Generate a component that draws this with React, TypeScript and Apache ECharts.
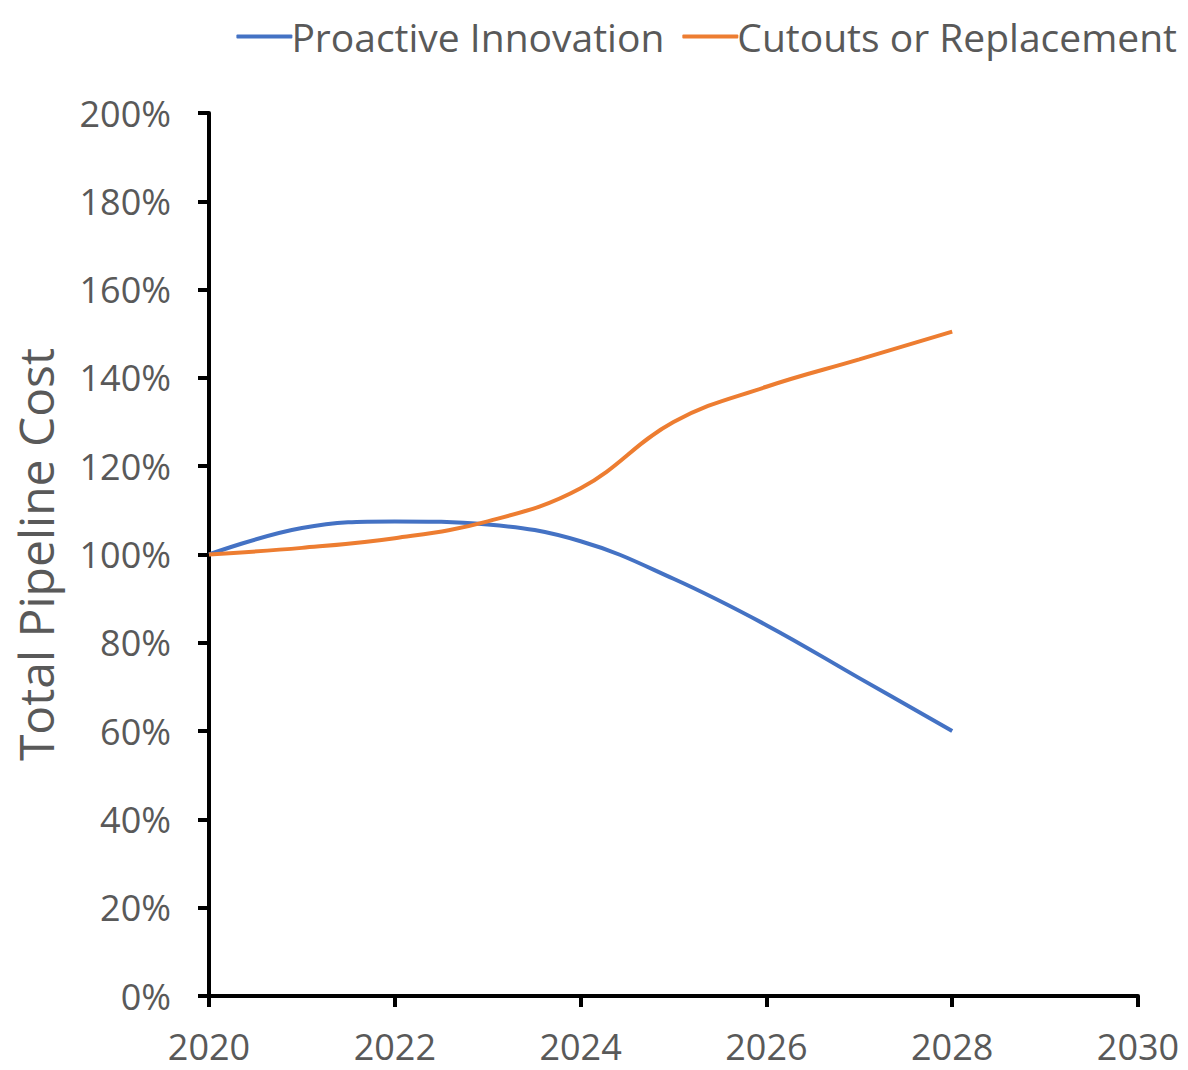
import React, { useEffect, useRef } from "react";
import * as echarts from "echarts";

const years = [2020, 2021, 2022, 2023, 2024, 2025, 2026, 2027, 2028];
const proactive = [100, 106, 107.5, 106.8, 103, 94.5, 84, 72, 60];
const cutouts = [100, 101.5, 103.7, 107.5, 115, 130, 138, 144.2, 150.5];
const seriesNames = ["Proactive Innovation", "Cutouts or Replacement"];
const colors = ["#4472C4", "#ED7D31"];

const FONT = "Open Sans";
const GREY = "#595959";

export default function App() {
  const ref = useRef<HTMLDivElement>(null);
  useEffect(() => {
    const chart = echarts.init(ref.current!, null, { renderer: "svg" });
    const mk = (vals: number[]) => years.map((y, i) => [y, vals[i]]);
    chart.setOption({
      animation: false,
      backgroundColor: "#fff",
      color: colors,
      textStyle: { fontFamily: FONT },
      legend: {
        top: 12,
        right: 6,
        itemWidth: 56,
        itemHeight: 4,
        itemGap: 18,
        icon: "roundRect",
        textStyle: { fontSize: 39, color: GREY, fontFamily: FONT, padding: [0, 0, 0, -6] },
        data: seriesNames,
      },
      grid: { left: 209, right: 50, top: 113, bottom: 74, outerBoundsMode: "none", containLabel: false },
      xAxis: {
        type: "value",
        min: 2020,
        max: 2030,
        interval: 2,
        splitLine: { show: false },
        axisLine: { show: true, onZero: false, lineStyle: { color: "#000", width: 4 } },
        axisTick: { show: true, length: 11, lineStyle: { color: "#000", width: 4 } },
        axisLabel: {
          fontSize: 36,
          color: GREY,
          fontFamily: FONT,
          margin: 32,
          formatter: (v: number) => String(v),
        },
      },
      yAxis: {
        type: "value",
        min: 0,
        max: 200,
        interval: 20,
        name: "Total Pipeline Cost",
        nameLocation: "middle",
        nameGap: 150,
        nameTextStyle: { fontSize: 48, color: GREY, fontFamily: FONT },
        splitLine: { show: false },
        axisLine: { show: true, lineStyle: { color: "#000", width: 4 } },
        axisTick: { show: true, length: 11, lineStyle: { color: "#000", width: 4 } },
        axisLabel: {
          fontSize: 36,
          color: GREY,
          fontFamily: FONT,
          margin: 38,
          formatter: "{value}%",
        },
      },
      series: [
        {
          name: seriesNames[0],
          type: "line",
          data: mk(proactive),
          smooth: 0.4,
          symbol: "none",
          lineStyle: { width: 4, color: colors[0] },
        },
        {
          name: seriesNames[1],
          type: "line",
          data: mk(cutouts),
          smooth: 0.4,
          symbol: "none",
          lineStyle: { width: 4, color: colors[1] },
        },
      ],
    });
    return () => chart.dispose();
  }, []);
  return (
    <div
      ref={ref}
      style={{ position: "absolute", left: 0, top: 0, width: 1188, height: 1070 }}
    />
  );
}
